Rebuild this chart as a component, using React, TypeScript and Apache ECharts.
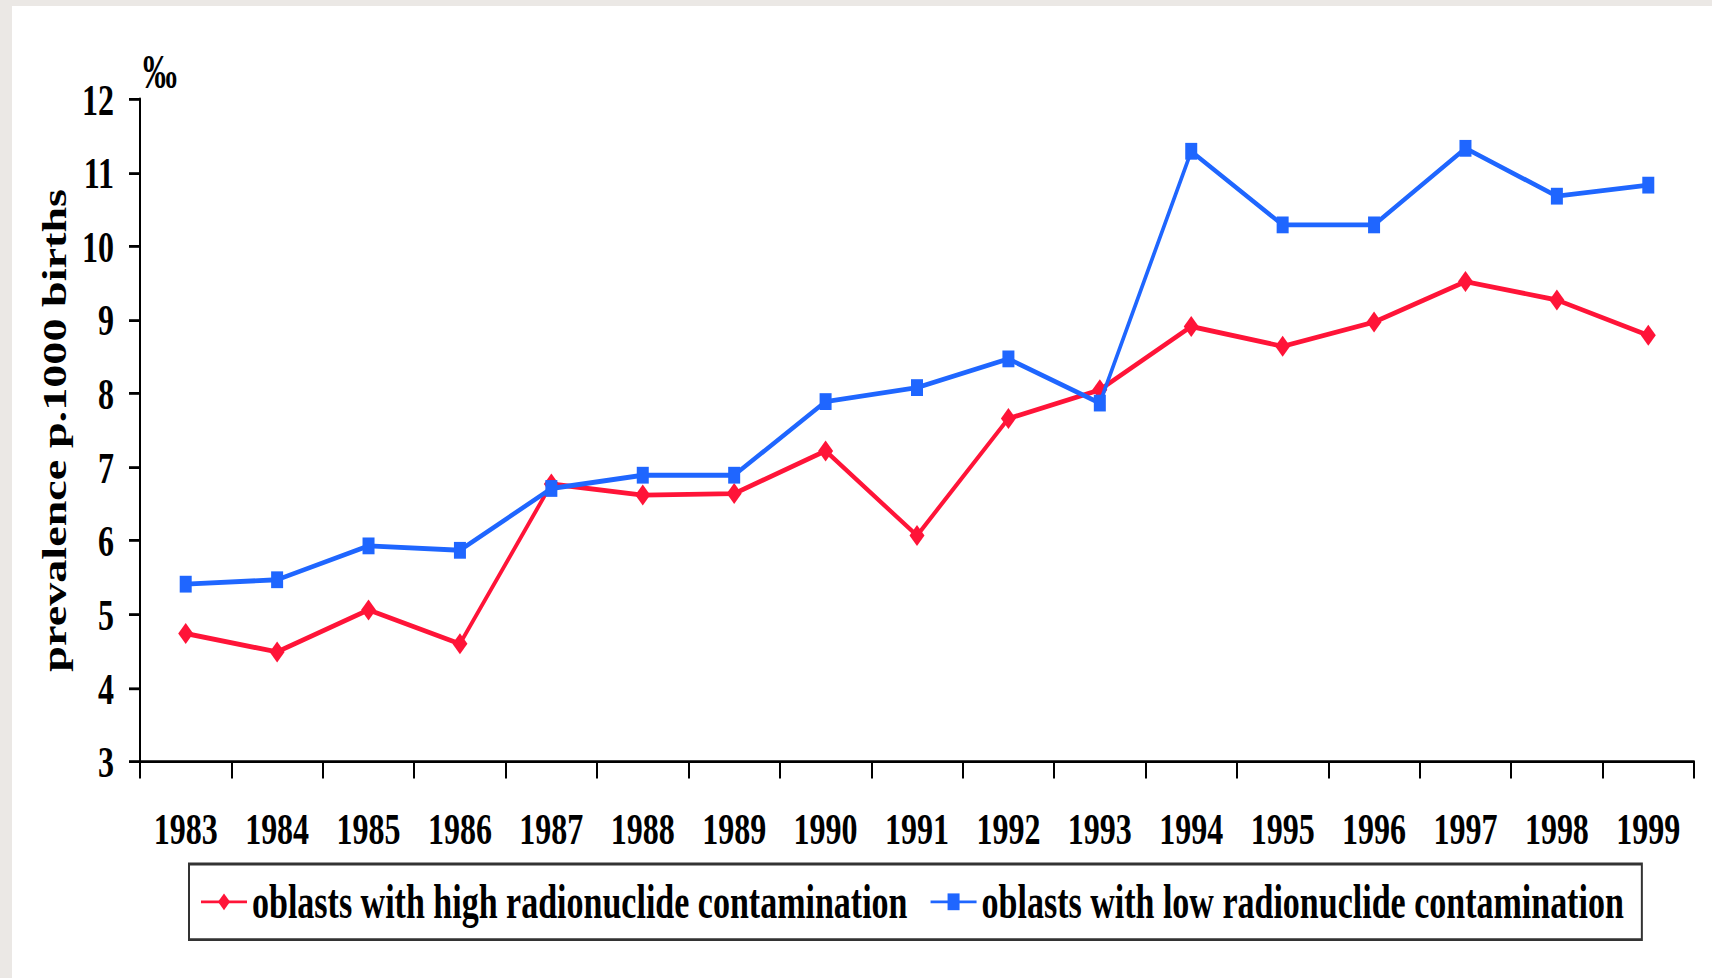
import React, { useEffect, useRef } from "react";
import * as echarts from "echarts";

const years = ["1983", "1984", "1985", "1986", "1987", "1988", "1989", "1990", "1991", "1992", "1993", "1994", "1995", "1996", "1997", "1998", "1999"];
const highContamination = [4.74, 4.49, 5.06, 4.6, 6.77, 6.62, 6.64, 7.22, 6.07, 7.66, 8.05, 8.91, 8.64, 8.97, 9.52, 9.27, 8.79];
const lowContamination = [5.41, 5.47, 5.93, 5.87, 6.71, 6.89, 6.89, 7.89, 8.08, 8.47, 7.87, 11.29, 10.29, 10.29, 11.33, 10.68, 10.83];
const seriesNames = ["oblasts with high radionuclide contamination", "oblasts with low radionuclide contamination"];
const yAxisTitle = "prevalence p.1000 births";
const unitLabel = "‰";

const W = 1712;
const FULL_H = 978;
const K = 1.4; // vertical stretch of the original picture
const H = FULL_H / K;
const FONT = "'Liberation Serif', 'Times New Roman', serif";

export default function App() {
  const ref = useRef<HTMLDivElement>(null);

  useEffect(() => {
    if (!ref.current) return;
    const chart = echarts.init(ref.current, undefined, { renderer: "svg" });
    const txt = { fontFamily: FONT, fontWeight: "bold" as const, color: "#000" };
    chart.setOption({
      animation: false,
      backgroundColor: "transparent",
      grid: { left: 140, right: 18, top: 99 / K, bottom: H - 761 / K, containLabel: false },
      xAxis: {
        type: "category",
        data: years,
        boundaryGap: true,
        axisLine: { lineStyle: { color: "#000", width: 2 } },
        axisTick: { show: true, length: 12, lineStyle: { color: "#000", width: 2 } },
        axisLabel: { ...txt, fontSize: 32, margin: 32 },
        splitLine: { show: false },
      },
      yAxis: {
        type: "value",
        min: 3,
        max: 12,
        interval: 1,
        name: yAxisTitle,
        nameLocation: "middle",
        nameRotate: 90,
        nameGap: 66,
        nameTextStyle: { ...txt, fontSize: 33 },
        axisLine: { show: true, lineStyle: { color: "#000", width: 2 } },
        axisTick: { show: true, length: 11, lineStyle: { color: "#000", width: 2 } },
        axisLabel: { ...txt, fontSize: 32, margin: 26 },
        splitLine: { show: false },
      },
      legend: {
        left: 189,
        top: 864 / K,
        padding: [10, 18, 10, 11],
        borderColor: "#333",
        borderWidth: 2,
        itemWidth: 46,
        itemHeight: 15,
        itemGap: 22,
        textStyle: { ...txt, fontSize: 34 },
        data: seriesNames,
      },
      graphic: [
        {
          type: "text",
          x: 160,
          y: 72 / K,
          style: { text: unitLabel, fill: "#000", fontSize: 34, align: "center", verticalAlign: "middle", fontFamily: FONT, fontWeight: "bold" },
        },
      ],
      series: [
        {
          name: seriesNames[0],
          type: "line",
          data: highContamination,
          symbol: "diamond",
          symbolSize: 15,
          itemStyle: { color: "#ff1438" },
          lineStyle: { color: "#ff1438", width: 3.5 },
          z: 2,
        },
        {
          name: seriesNames[1],
          type: "line",
          data: lowContamination,
          symbol: "rect",
          symbolSize: 12,
          itemStyle: { color: "#1f66ff" },
          lineStyle: { color: "#1f66ff", width: 3.5 },
          z: 3,
        },
      ],
    });
    return () => chart.dispose();
  }, []);

  return (
    <div style={{ position: "absolute", left: 0, top: 0, width: W, height: FULL_H, overflow: "hidden", background: "#ebe8e5" }}>
      <div style={{ position: "absolute", left: 12, top: 6, right: 0, bottom: 0, background: "#ffffff" }} />
      <div
        ref={ref}
        style={{ position: "absolute", left: 0, top: 0, width: W, height: H, transform: `scaleY(${K})`, transformOrigin: "0 0" }}
      />
    </div>
  );
}
